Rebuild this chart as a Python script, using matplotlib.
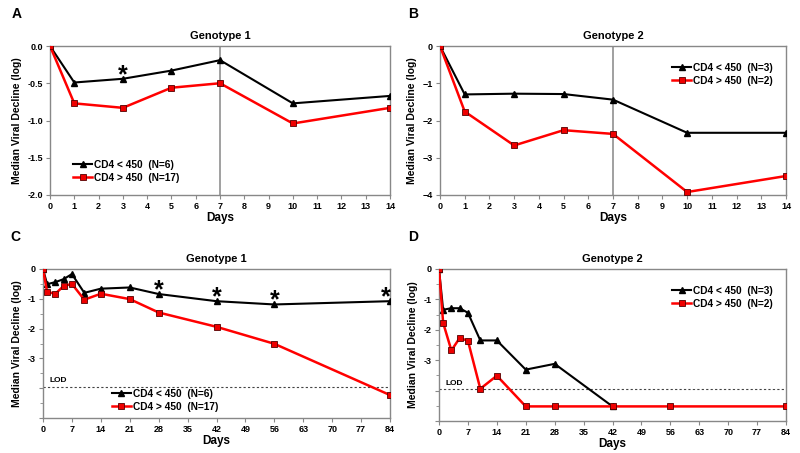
import numpy as np
import matplotlib
matplotlib.use('Agg')
import matplotlib.pyplot as plt
from matplotlib.ticker import MultipleLocator, FixedLocator

plt.rcParams['font.family'] = ['Liberation Sans', 'DejaVu Sans']
plt.rcParams['font.weight'] = 'bold'

# data
days_short = [0, 1, 3, 5, 7, 10, 14]
g1_low_short = [0, -0.49, -0.44, -0.33, -0.19, -0.77, -0.67]
g1_high_short = [0, -0.77, -0.83, -0.56, -0.50, -1.04, -0.83]
g2_low_short = [0, -1.30, -1.28, -1.29, -1.44, -2.33, -2.33]
g2_high_short = [0, -1.76, -2.67, -2.26, -2.36, -3.92, -3.49]

days_long = [0, 1, 3, 5, 7, 10, 14, 21, 28, 42, 56, 84]
g1_low_long = [0, -0.51, -0.44, -0.34, -0.17, -0.80, -0.66, -0.62, -0.84, -1.08, -1.19, -1.08]
g1_high_long = [0, -0.77, -0.83, -0.57, -0.50, -1.03, -0.83, -1.01, -1.46, -1.94, -2.51, -4.23]
days_g2_low = [0, 1, 3, 5, 7, 10, 14, 21, 28, 42]
g2_low_long = [0, -1.34, -1.29, -1.29, -1.44, -2.35, -2.35, -3.31, -3.12, -4.52]
g2_high_long = [0, -1.77, -2.68, -2.27, -2.36, -3.94, -3.51, -4.52, -4.52, -4.52, -4.52, -4.52]

star_days_a = [3]
star_days_c = [28, 42, 56, 84]
LOD = -3.95

W, H = 800, 453
fig = plt.figure(figsize=(8, 4.53), dpi=100)


def make_ax(l, r, t, b):
    return fig.add_axes([l / W, 1 - b / H, (r - l) / W, (b - t) / H])


def style(ax, title):
    for s in ax.spines.values():
        s.set_color('#888888')
        s.set_linewidth(1.0)
    ax.tick_params(axis='both', which='major', labelsize=6.5, length=3,
                   color='#888888', width=0.8, pad=2)
    ax.tick_params(axis='both', which='minor', length=2, color='#888888', width=0.6)
    for lab in ax.get_xticklabels() + ax.get_yticklabels():
        lab.set_fontweight('bold')
    ax.set_title(title, fontsize=8, fontweight='bold', pad=5)
    ax.set_xlabel('Days', fontsize=8.5, fontweight='bold', labelpad=1)
    ax.set_ylabel('Median Viral Decline (log)', fontsize=7.5, fontweight='bold', labelpad=4)


def plot_pair(ax, xl, yl, xh, yh, nl, nh, loc, anchor):
    ax.plot(xl, yl, color='black', lw=1.5, marker='^', ms=4.5, zorder=3,
            label='CD4 < 450  (N=%d)' % nl)
    ax.plot(xh, yh, color='#ff0000', lw=1.8, marker='s', ms=4.2, mfc='#ee0000',
            mec='#550000', mew=0.6, zorder=4, label='CD4 > 450  (N=%d)' % nh)
    ax.legend(loc=loc, bbox_to_anchor=anchor, frameon=False,
              handlelength=1.9, handletextpad=0.2, labelspacing=0.3,
              borderaxespad=0.2, prop={'weight': 'bold', 'size': 7.3})


def stars(ax, xs, days, vals, shift84=False):
    for d in xs:
        x = d - 1 if (shift84 and d == 84) else d
        ax.annotate('*', (x, vals[days.index(d)]), xytext=(0, -6),
                    textcoords='offset points', ha='center', va='bottom',
                    fontsize=18, fontweight='bold')


# A
axA = make_ax(50, 390, 46, 195)
axA.axvline(7, color='#999999', lw=1.3, zorder=1)
plot_pair(axA, days_short, g1_low_short, days_short, g1_high_short, 6, 17,
          'lower left', (0.05, 0.04))
stars(axA, star_days_a, days_short, g1_low_short)
axA.set_xlim(0, 14)
axA.set_ylim(-2.0, 0)
axA.set_xticks(range(0, 15))
axA.yaxis.set_major_locator(MultipleLocator(0.5))
axA.yaxis.set_major_formatter(matplotlib.ticker.FormatStrFormatter('%.1f'))
style(axA, 'Genotype 1')

# B
axB = make_ax(440, 786, 46, 195)
axB.axvline(7, color='#999999', lw=1.3, zorder=1)
plot_pair(axB, days_short, g2_low_short, days_short, g2_high_short, 3, 2,
          'upper right', (0.98, 0.93))
axB.set_xlim(0, 14)
axB.set_ylim(-4, 0)
axB.set_xticks(range(0, 15))
axB.set_yticks([0, -1, -2, -3, -4])
style(axB, 'Genotype 2')


def long_axis(ax):
    ax.axhline(LOD, color='#444444', lw=0.8, ls=(0, (2, 2)), zorder=1)
    ax.text(1.5, LOD + 0.08, 'LOD', fontsize=6, fontweight='bold', va='bottom')
    ax.set_xlim(0, 84)
    ax.set_ylim(-5, 0)
    ax.set_xticks(range(0, 85, 7))
    ax.set_yticks([0, -1, -2, -3, -4, -5])
    ax.set_yticklabels(['0', '-1', '-2', '-3', '', ''])
    ax.yaxis.set_minor_locator(FixedLocator([-0.5, -1.5, -2.5, -3.5, -4.5]))


# C
axC = make_ax(43, 390, 269, 418)
long_axis(axC)
plot_pair(axC, days_long, g1_low_long, days_long, g1_high_long, 6, 17,
          'lower left', (0.18, 0.0))
stars(axC, star_days_c, days_long, g1_low_long, shift84=True)
style(axC, 'Genotype 1')

# D
axD = make_ax(439, 786, 269, 421)
long_axis(axD)
plot_pair(axD, days_g2_low, g2_low_long, days_long, g2_high_long, 3, 2,
          'upper right', (0.98, 0.93))
style(axD, 'Genotype 2')

for lab, x, y in [('A', 12, 14), ('B', 408, 14), ('C', 10, 237), ('D', 408, 237)]:
    fig.text(x / W, 1 - y / H, lab, fontsize=10, fontweight='bold', va='center')

fig.savefig('out.png', dpi=100)
